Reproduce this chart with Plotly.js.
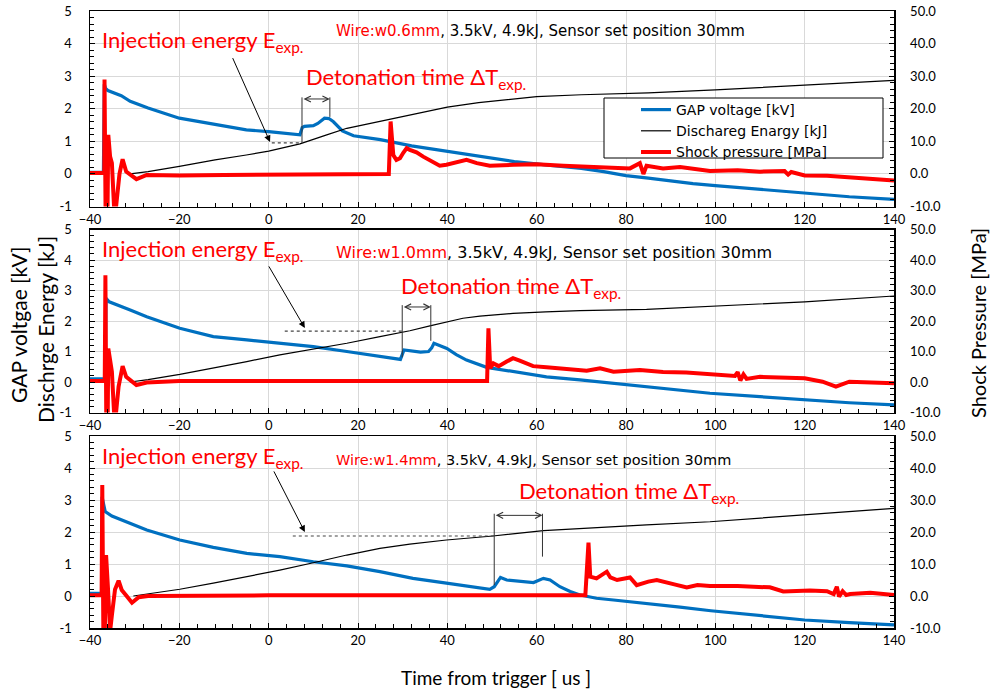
<!DOCTYPE html>
<html><head><meta charset="utf-8">
<script src="https://cdn.plot.ly/plotly-3.0.1.min.js"></script>
<style>html,body{margin:0;padding:0;background:#fff}#chart{width:994px;height:693px}</style>
</head><body><div id="chart"></div><script>
// ---------- Panel 1 : Wire w0.6mm ----------
const gapT1 = [-40, -37, -36.8, -36.5, -36, -33, -31, -27, -20, -12, -5, 0, 7, 7.5, 8, 10, 11, 12.5, 13.5, 14.5, 16.5, 19, 25, 32, 40, 47, 55, 62, 70, 75, 80, 85, 90, 95, 100, 110, 120, 130, 140];
const gapV1 = [0.05, 0.05, 2.75, 2.62, 2.56, 2.4, 2.23, 2.02, 1.71, 1.51, 1.35, 1.3, 1.2, 1.42, 1.46, 1.48, 1.55, 1.71, 1.7, 1.6, 1.32, 1.17, 1.05, 0.86, 0.69, 0.53, 0.38, 0.28, 0.17, 0.07, -0.05, -0.13, -0.22, -0.3, -0.36, -0.48, -0.6, -0.7, -0.78];
const engT1 = [-31, -27, -20, -12, -5, 0, 7, 10, 13, 17.5, 25, 32, 40, 47, 55, 60, 70, 77, 85, 100, 120, 140];
const engV1 = [0, 0.07, 0.23, 0.43, 0.58, 0.7, 0.92, 1.05, 1.2, 1.4, 1.62, 1.82, 2.05, 2.19, 2.3, 2.37, 2.43, 2.46, 2.49, 2.58, 2.73, 2.87];
const prsT1 = [-40, -36.8, -36.75, -36.5, -36.1, -35.9, -35.5, -35.1, -34.6, -34.2, -33.4, -32.7, -31.9, -31, -29.6, -27.3, -20, -10, 0, 10, 20, 26.9, 27.3, 27.9, 28.6, 29.4, 30.1, 30.9, 31.6, 33.1, 34.6, 36.1, 38.3, 39.8, 44.3, 46.6, 49.5, 54.8, 60, 66, 73.4, 80.9, 83.1, 83.9, 84.6, 88.3, 92.1, 98.8, 105, 110, 115.5, 116.3, 117, 120, 125, 130, 135, 140];
const prsP1 = [0.3, 0.3, 29, -14, -14, 12, 5.3, 3.3, -10.5, -10.5, 0, 4.5, 0.7, -0.3, -1.6, -0.3, -0.5, -0.3, -0.3, -0.3, -0.2, 0, 16.1, 5.8, 4.3, 4.8, 6.4, 7.9, 7.4, 6.6, 5.3, 4.3, 2.5, 2.8, 4.3, 3.3, 2.5, 2.8, 3.0, 2.5, 2.1, 1.7, 3.3, 0, 2.5, 1.7, 2.1, 0.9, 1.1, 0.7, 0.9, -0.2, 0.6, -0.5, -0.6, -1.0, -1.5, -2.0];

// ---------- Panel 2 : Wire w1.0mm ----------
const gapT2 = [-40, -36.6, -36.4, -35.7, -31, -27.3, -19.9, -12.4, -4.9, -0.5, 7, 10, 17.5, 24.9, 29.5, 30.3, 32, 34, 35.8, 36.5, 37, 38, 39.9, 42, 44.3, 48.8, 54.7, 62.2, 69.7, 77.2, 84.6, 92.1, 98.8, 110, 120, 130, 140];
const gapV2 = [0.1, 0.1, 2.74, 2.63, 2.36, 2.14, 1.76, 1.49, 1.38, 1.32, 1.21, 1.16, 1.0, 0.83, 0.74, 1.05, 1.02, 0.98, 1.0, 1.12, 1.27, 1.22, 1.1, 0.9, 0.72, 0.48, 0.34, 0.17, 0.07, -0.04, -0.15, -0.26, -0.37, -0.48, -0.59, -0.68, -0.75];
const engT2 = [-31, -27, -19.9, -12.4, -4.9, 2.5, 10, 17.5, 24.9, 31.6, 36.1, 39.9, 43.5, 47.3, 54.7, 62, 69.7, 84.6, 98.8, 120, 140];
const engV2 = [0, 0.08, 0.25, 0.45, 0.67, 0.89, 1.07, 1.27, 1.49, 1.68, 1.84, 1.98, 2.09, 2.16, 2.25, 2.3, 2.34, 2.38, 2.49, 2.63, 2.82];
const prsT2 = [-40, -36.7, -36.55, -36.35, -36.05, -35.9, -35.5, -35.1, -34.6, -34.2, -33.6, -32.7, -31.9, -31, -29.6, -27.3, -20, 0, 20, 40, 48.9, 49.2, 49.6, 50.3, 51.5, 53.3, 54.7, 56.2, 59.2, 62.2, 66.7, 71.2, 74.2, 77.2, 83.1, 88.3, 93.5, 98.8, 104.4, 105, 105.6, 106.3, 107, 110, 120, 124, 127, 130, 135, 140];
const prsP2 = [0.3, 0.3, 35, -14, -14, 11, 7.2, 3.4, -10.5, -10.5, -1.5, 5.2, 1.7, 0.7, -1.0, -0.2, 0.3, 0.3, 0.3, 0.3, 0.3, 17.6, 4.5, 6.1, 5.2, 6.7, 7.8, 7.0, 5.2, 4.8, 4.1, 3.7, 4.5, 3.4, 3.9, 3.3, 3.1, 2.5, 2.0, 3.2, 0.5, 2.5, 1.0, 1.7, 1.2, 0.1, -1.5, 0.1, -0.2, -0.4];

// ---------- Panel 3 : Wire w1.4mm ----------
const gapT3 = [-40, -37.4, -37.3, -36.6, -35.1, -31, -27.3, -19.9, -12.4, -4.9, 2.5, 10, 17.5, 24.9, 32.3, 39.8, 45, 49.5, 50.5, 51.9, 53.3, 56.3, 59.3, 61.5, 63, 65.2, 67.5, 69.7, 73.4, 77.2, 84.6, 92.1, 99, 110, 120, 130, 140];
const gapV3 = [0.08, 0.08, 3.1, 2.64, 2.5, 2.27, 2.06, 1.75, 1.52, 1.33, 1.23, 1.07, 0.94, 0.76, 0.55, 0.4, 0.3, 0.21, 0.29, 0.58, 0.5, 0.45, 0.42, 0.55, 0.5, 0.29, 0.14, 0.03, -0.07, -0.125, -0.23, -0.35, -0.46, -0.62, -0.75, -0.83, -0.9];
const engT3 = [-30.3, -27.3, -19.9, -12.4, -4.9, 2.5, 10, 17.5, 24.9, 31.6, 39.8, 50.2, 61.5, 69.7, 84.6, 98.8, 120, 140];
const engV3 = [0, 0.06, 0.21, 0.4, 0.6, 0.81, 1.04, 1.28, 1.49, 1.62, 1.75, 1.875, 2.04, 2.11, 2.22, 2.32, 2.53, 2.74];
const prsT3 = [-40, -37.4, -37.25, -37.0, -36.7, -36.4, -36.0, -35.5, -35.1, -34.4, -33.6, -32.9, -31.8, -30.6, -29.1, -27, 0, 30, 60, 70.9, 71.6, 72, 73.4, 74.5, 75.7, 76.5, 78, 80.9, 82.4, 85, 86.9, 90.6, 93.6, 96, 98.8, 105, 110, 112.2, 115.2, 121.2, 125, 126.5, 127.2, 127.7, 128.5, 129.3, 130.2, 134.7, 140];
const prsP3 = [0.2, 0.2, 34.7, -13, -13, 12.8, 3, -11, -6, 2, 4.8, 1.9, 0, -2.1, -0.4, 0, 0.2, 0.2, 0.2, 0.2, 16.7, 6.0, 5.5, 6.5, 7.6, 5.8, 5.0, 5.8, 3.4, 4.5, 5.0, 3.7, 2.7, 3.4, 3.1, 3.1, 2.9, 2.7, 1.4, 1.7, 1.5, 0.6, 2.9, -0.2, 1.5, 0.3, 0.6, 1.0, 0.3];

// ---------- annotation info (data units) ----------
const wireLabels = ['Wire:w0.6mm', 'Wire:w1.0mm', 'Wire:w1.4mm'];
const conditionText = ', 3.5kV, 4.9kJ, Sensor set position 30mm';
const seriesNames = ['GAP voltage [kV]', 'Dischareg Enargy [kJ]', 'Shock pressure [MPa]'];
// detonation bracket: [start time, end time]
const detStart = [7.46, 29.9, 50.5];
const detEnd = [13.7, 36.3, 61.3];
// injection energy level (kJ) and dotted line start time
const injLevel = [0.95, 1.67, 1.875];
const injLineStart = [0.7, 3.6, 5.4];

const PX = p => (p - 90) / 804;
const PY = p => (628 - p) / 617;
const FONT = 'Lato, "Noto Sans", sans-serif';
const FONT2 = '"DejaVu Sans", Verdana, sans-serif';
const RED = '#FF0000', BLUE = '#0070C0';

const panels = [
  {gT: gapT1, gV: gapV1, eT: engT1, eV: engV1, pT: prsT1, pP: prsP1, dom: [PY(206.5), 1],
   wireY: 31, wireSize: 15, injY: 41, detX: 307, detY: 78,
   arrow: {tip: [0.3, 0.98], tail: [-8.2, 3.6]}, brTop: 2.35, brArrow: 2.3, brLeftBot: 0.95, brRightBot: 1.75},
  {gT: gapT2, gV: gapV2, eT: engT2, eV: engV2, pT: prsT2, pP: prsP2, dom: [PY(412.5), PY(229.5)],
   wireY: 252, wireSize: 16, injY: 250, detX: 402, detY: 287,
   arrow: {tip: [8.1, 1.77], tail: [-0.15, 3.84]}, brTop: 2.52, brArrow: 2.46, brLeftBot: 0.81, brRightBot: 1.35},
  {gT: gapT3, gV: gapV3, eT: engT3, eV: engV3, pT: prsT3, pP: prsP3, dom: [0, PY(436)],
   wireY: 460, wireSize: 14.5, injY: 457, detX: 520, detY: 492,
   arrow: {tip: [8.1, 2.0], tail: [1.0, 3.94]}, brTop: 2.57, brArrow: 2.52, brLeftBot: 0.34, brRightBot: 1.23}
];

const traces = [], annotations = [], shapes = [];
const layout = {
  width: 994, height: 693,
  margin: {l: 90, r: 100, t: 11, b: 65, pad: 0},
  paper_bgcolor: '#fff', plot_bgcolor: '#fff',
  font: {family: FONT, color: '#000'},
  showlegend: true,
  legend: {x: PX(636), xanchor: 'left', y: PY(94), yanchor: 'top', bgcolor: 'rgba(0,0,0,0)',
           borderwidth: 0, font: {family: FONT2, size: 14, color: '#000'}, tracegroupgap: 0},
  annotations, shapes
};

panels.forEach((p, i) => {
  const xid = i === 0 ? 'x' : 'x' + (i + 1);
  const yl = 'y' + (i === 0 ? '' : (2 * i + 1));
  const yr = 'y' + (2 * i + 2);
  const xk = i === 0 ? 'xaxis' : 'xaxis' + (i + 1);
  const ylk = 'yaxis' + (i === 0 ? '' : (2 * i + 1));
  const yrk = 'yaxis' + (2 * i + 2);

  traces.push({x: p.gT, y: p.gV, xaxis: xid, yaxis: yl, mode: 'lines', name: seriesNames[0],
    line: {color: BLUE, width: 3.2}, showlegend: i === 0, legendgroup: 'g'});
  traces.push({x: p.eT, y: p.eV, xaxis: xid, yaxis: yl, mode: 'lines', name: seriesNames[1],
    line: {color: '#000', width: 1.2}, showlegend: i === 0, legendgroup: 'e'});
  traces.push({x: p.pT, y: p.pP, xaxis: xid, yaxis: yr, mode: 'lines', name: seriesNames[2],
    line: {color: RED, width: 4}, showlegend: i === 0, legendgroup: 'p'});

  layout[xk] = {domain: [0, 1], anchor: yl, range: [-40, 140], tickmode: 'linear', tick0: -40, dtick: 20,
    showgrid: true, gridcolor: '#d9d9d9', gridwidth: 1, zeroline: false,
    showline: true, linecolor: '#000', linewidth: 1.5, mirror: true,
    ticks: 'inside', ticklen: 5, tickcolor: '#000',
    minor: {tick0: -40, dtick: 4, ticks: 'inside', ticklen: 4, tickcolor: '#000', showgrid: false},
    tickfont: {family: FONT, size: 13, color: '#000'}};
  layout[ylk] = {domain: p.dom, anchor: xid, range: [-1, 5], tickmode: 'array',
    tickvals: [-1, 0, 1, 2, 3, 4, 5], ticktext: ['-1', '0', '1', '2', '3', '4', '5'],
    showgrid: true, gridcolor: '#d9d9d9', gridwidth: 1, zeroline: false,
    showline: true, linecolor: '#000', linewidth: 1.5, mirror: true,
    ticks: 'inside', ticklen: 5, tickcolor: '#000', ticklabelstandoff: 14,
    minor: {tick0: -1, dtick: 0.2, ticks: 'inside', ticklen: 4, tickcolor: '#000', showgrid: false},
    tickfont: {family: FONT, size: 13, color: '#000'}};
  layout[yrk] = {overlaying: yl, anchor: xid, side: 'right', range: [-10, 50], tickmode: 'array',
    tickvals: [-10, 0, 10, 20, 30, 40, 50], ticktext: ['-10.0', '0.0', '10.0', '20.0', '30.0', '40.0', '50.0'],
    showgrid: false, zeroline: false, showline: true, linecolor: '#000', linewidth: 1.5,
    ticks: 'inside', ticklen: 5, tickcolor: '#000', ticklabelstandoff: 12,
    minor: {tick0: -10, dtick: 2, ticks: 'inside', ticklen: 4, tickcolor: '#000'},
    tickfont: {family: FONT, size: 13, color: '#000'}};

  // condition text
  annotations.push({xref: 'paper', yref: 'paper', x: PX(334), y: PY(p.wireY), xanchor: 'left', yanchor: 'middle',
    showarrow: false, text: '<span style="color:' + RED + '">' + wireLabels[i] + '</span>' + conditionText,
    font: {family: FONT2, size: p.wireSize, color: '#000'}});
  // big red labels
  annotations.push({xref: 'paper', yref: 'paper', x: PX(100), y: PY(p.injY), xanchor: 'left', yanchor: 'middle',
    showarrow: false, text: 'Injection energy E<sub>exp.</sub>', font: {family: FONT, size: 22, color: RED}});
  annotations.push({xref: 'paper', yref: 'paper', x: PX(p.detX - 3), y: PY(p.detY), xanchor: 'left', yanchor: 'middle',
    showarrow: false, text: 'Detonation time ΔT<sub>exp.</sub>', font: {family: FONT, size: 22, color: RED}});
  // injection arrow
  annotations.push({xref: xid, yref: yl, axref: xid, ayref: yl, x: p.arrow.tip[0], y: p.arrow.tip[1],
    ax: p.arrow.tail[0], ay: p.arrow.tail[1], text: '', showarrow: true, arrowhead: 2, arrowsize: 1.3,
    arrowwidth: 1, arrowcolor: '#000', standoff: 0});
  // double arrow for detonation time
  annotations.push({xref: xid, yref: yl, axref: xid, ayref: yl, x: detEnd[i], y: p.brArrow,
    ax: detStart[i], ay: p.brArrow, text: '', showarrow: true, arrowside: 'end+start', arrowhead: 5,
    startarrowhead: 5, arrowsize: 1.2, startarrowsize: 1.2, arrowwidth: 1, arrowcolor: '#333', standoff: 0, startstandoff: 0});
  // bracket verticals
  shapes.push({type: 'line', xref: xid, yref: yl, x0: detStart[i], x1: detStart[i], y0: p.brTop, y1: p.brLeftBot,
    line: {color: '#333', width: 1}});
  shapes.push({type: 'line', xref: xid, yref: yl, x0: detEnd[i], x1: detEnd[i], y0: p.brTop, y1: p.brRightBot,
    line: {color: '#333', width: 1}});
  // dotted injection-energy level
  shapes.push({type: 'line', xref: xid, yref: yl, x0: injLineStart[i], x1: detStart[i], y0: injLevel[i], y1: injLevel[i],
    line: {color: '#444', width: 1.2, dash: 'dot'}});
});

// legend box (panel 1)
shapes.push({type: 'rect', xref: 'paper', yref: 'paper', x0: PX(604), x1: PX(883), y0: PY(158), y1: PY(98),
  fillcolor: '#fff', line: {color: '#000', width: 1}, layer: 'above'});

// axis titles
annotations.push({xref: 'paper', yref: 'paper', x: PX(496), y: PY(677), xanchor: 'center', yanchor: 'middle',
  showarrow: false, text: 'Time from trigger [ us ]', font: {family: FONT, size: 19, color: '#000'}});
annotations.push({xref: 'paper', yref: 'paper', x: PX(18), y: PY(325), xanchor: 'center', yanchor: 'middle',
  showarrow: false, textangle: -90, text: 'GAP voltgae [kV]', font: {family: FONT, size: 21, color: '#000'}});
annotations.push({xref: 'paper', yref: 'paper', x: PX(45), y: PY(330), xanchor: 'center', yanchor: 'middle',
  showarrow: false, textangle: -90, text: 'Dischrge Energy [kJ]', font: {family: FONT, size: 21, color: '#000'}});
annotations.push({xref: 'paper', yref: 'paper', x: PX(978), y: PY(323), xanchor: 'center', yanchor: 'middle',
  showarrow: false, textangle: -90, text: 'Shock Pressure [MPa]', font: {family: FONT, size: 20, color: '#000'}});

Plotly.newPlot('chart', traces, layout, {displayModeBar: false, staticPlot: true});
</script></body></html>
